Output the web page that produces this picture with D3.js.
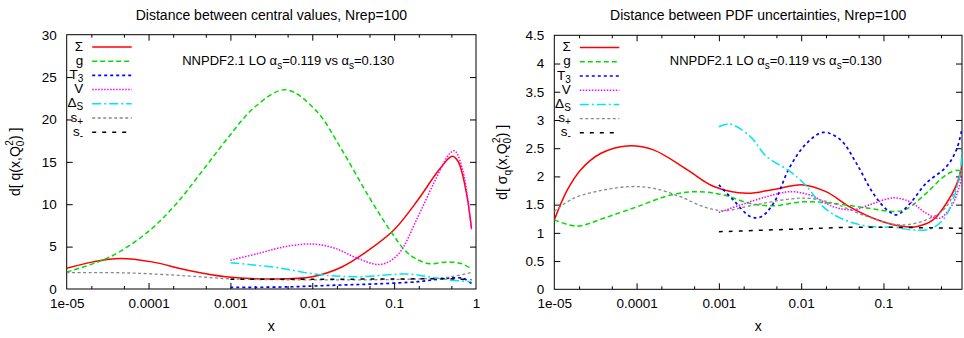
<!DOCTYPE html>
<html>
<head>
<meta charset="utf-8">
<script src="https://cdn.jsdelivr.net/npm/d3@7"></script>
<style>
  html, body { margin: 0; padding: 0; background: #fff; }
  svg { display: block; }
  text { font-family: "Liberation Sans", Arial, Helvetica, sans-serif; fill: #000; }
</style>
</head>
<body>
<svg id="chart" width="964" height="338"></svg>
<script>
// ---- tick values and labels ----
const xMajorTicks = [1e-5, 1e-4, 1e-3, 1e-2, 1e-1, 1];
const xTickLabels = ["1e-05", "0.0001", "0.001", "0.01", "0.1", "1"];
const xMinorTicks = [2e-5, 5e-5, 2e-4, 5e-4, 2e-3, 5e-3, 2e-2, 5e-2, 0.2, 0.5];
const yTicksCentral = [0, 5, 10, 15, 20, 25, 30];
const yTicksSigma = [0, 0.5, 1, 1.5, 2, 2.5, 3, 3.5, 4, 4.5];

// ---- distance between central values: [x, d] ----
const cvSigma = [[1e-5,2.44],[2.1e-5,3.2],[4.5e-5,3.6],[1.1e-4,3.2],[2.9e-4,2.25],[8.8e-4,1.45],[3.5e-3,1.18],[0.01,1.45],[0.023,2.6],[0.049,4.6],[0.1,7.0],[0.195,10.5],[0.35,14.0],[0.51,15.65],[0.6,15.1],[0.68,13.6],[0.79,10.5],[0.88,7.2]];
const cvGluon = [[1e-5,2.0],[3.4e-5,3.8],[1e-4,6.8],[2.2e-4,10.1],[4.6e-4,14.0],[9.6e-4,18.0],[2e-3,21.5],[4.7e-3,23.5],[0.011,21.1],[0.023,16.4],[0.049,10.9],[0.094,6.6],[0.148,4.2],[0.26,3.0],[0.45,3.2],[0.66,3.0],[0.88,2.4]];
const cvT3 = [[1e-3,0.18],[0.005,0.25],[0.019,0.45],[0.06,0.6],[0.195,0.86],[0.29,1.06],[0.5,1.3],[0.7,1.25],[0.88,0.65]];
const cvV = [[1e-3,3.4],[2.2e-3,4.2],[4.7e-3,5.0],[0.01,5.3],[0.019,4.8],[0.036,3.6],[0.068,2.9],[0.11,4.0],[0.195,8.5],[0.32,12.9],[0.48,16.0],[0.55,16.3],[0.69,14.0],[0.88,7.0]];
const cvDeltaS = [[1e-3,3.1],[3.5e-3,2.56],[0.012,1.7],[0.036,1.45],[0.148,1.77],[0.24,1.5],[0.45,1.1],[0.88,0.86]];
const cvSPlus = [[1e-5,1.93],[5.4e-5,1.9],[2.9e-4,1.55],[1e-3,1.2],[0.01,1.08],[0.1,1.12],[0.3,1.25],[0.5,1.45],[0.88,1.95]];
const cvSMinus = [[1e-3,1.15],[0.01,1.15],[0.1,1.18],[0.5,1.2],[0.88,1.1]];

// ---- distance between PDF uncertainties: [x, d] ----
const unSigma = [[1e-5,1.23],[1.44e-5,1.76],[2.1e-5,2.12],[3.7e-5,2.41],[7.7e-5,2.54],[1.6e-4,2.47],[4.1e-4,2.12],[8.7e-4,1.82],[2.2e-3,1.7],[4.6e-3,1.77],[0.0106,1.85],[0.02,1.73],[0.039,1.46],[0.075,1.26],[0.16,1.12],[0.25,1.11],[0.4,1.23],[0.58,1.52],[0.77,1.85],[0.9,2.2]];
const unGluon = [[1e-5,1.23],[1.9e-5,1.12],[4e-5,1.26],[1e-4,1.46],[2.6e-4,1.67],[5.5e-4,1.73],[1.15e-3,1.67],[2.4e-3,1.52],[4.6e-3,1.48],[0.0106,1.55],[0.025,1.52],[0.063,1.44],[0.132,1.38],[0.19,1.42],[0.33,1.7],[0.58,2.03],[0.8,2.11],[0.9,2.08]];
const unT3 = [[1e-3,1.85],[1.5e-3,1.58],[2.4e-3,1.29],[3.2e-3,1.28],[4.6e-3,1.52],[7.3e-3,2.17],[0.0117,2.59],[0.0186,2.78],[0.03,2.65],[0.047,2.23],[0.075,1.7],[0.11,1.41],[0.145,1.32],[0.21,1.52],[0.33,1.88],[0.58,2.17],[0.77,2.47],[0.9,2.85]];
const unV = [[1e-3,1.36],[1.8e-3,1.49],[3.8e-3,1.64],[7.3e-3,1.73],[0.0128,1.67],[0.025,1.46],[0.043,1.41],[0.075,1.52],[0.132,1.62],[0.21,1.55],[0.33,1.35],[0.48,1.26],[0.7,1.52],[0.9,2.0]];
const unDeltaS = [[1e-3,2.88],[1.35e-3,2.93],[2.4e-3,2.71],[3.8e-3,2.35],[7.3e-3,2.09],[0.0117,1.82],[0.0186,1.46],[0.03,1.26],[0.063,1.12],[0.132,1.1],[0.23,1.05],[0.37,1.07],[0.53,1.23],[0.7,1.58],[0.85,2.06],[0.9,2.5]];
const unSPlus = [[1e-5,1.38],[1.7e-5,1.61],[4e-5,1.76],[8.5e-5,1.82],[1.6e-4,1.79],[3.4e-4,1.64],[6.6e-4,1.46],[1.15e-3,1.39],[2.4e-3,1.48],[7.3e-3,1.6],[0.0128,1.61],[0.025,1.52],[0.063,1.29],[0.16,1.14],[0.33,1.23],[0.58,1.46],[0.9,2.1]];
const unSMinus = [[1e-3,1.02],[0.01,1.07],[0.05,1.1],[0.9,1.08]];

// ---- series styling (gnuplot-like line types) ----
const seriesStyles = [
  { key: "Sigma",  color: "#ff0000", dash: null,          width: 1.5 },
  { key: "Gluon",  color: "#00dd00", dash: "5,3",         width: 1.5 },
  { key: "T3",     color: "#0000ff", dash: "3,3",         width: 1.7 },
  { key: "V",      color: "#ff00ff", dash: "1.5,1.5",     width: 1.5 },
  { key: "DeltaS", color: "#00e5ee", dash: "9,3,2,3",     width: 1.5 },
  { key: "SPlus",  color: "#888888", dash: "3,2.5",       width: 1.3 },
  { key: "SMinus", color: "#000000", dash: "4,6",         width: 1.5 }
];

const svg = d3.select("#chart");

function legendLabel(t, key) {
  const subDy = 3, subSize = 10;
  const withSub = (main, sub) => {
    t.append("tspan").text(main);
    t.append("tspan").attr("dy", subDy).attr("font-size", subSize).text(sub);
  };
  if (key === "Sigma") t.text("Σ");
  else if (key === "Gluon") t.text("g");
  else if (key === "V") t.text("V");
  else if (key === "T3") withSub("T", "3");
  else if (key === "DeltaS") withSub("Δ", "S");
  else if (key === "SPlus") withSub("s", "+");
  else if (key === "SMinus") withSub("s", "-");
}

function drawPanel(cfg) {
  const { left, right, top, bottom, xMax, yMax, yTicks, yFormat, series, title, ylabelSym } = cfg;
  const x = d3.scaleLog().domain([1e-5, xMax]).range([left, right]);
  const y = d3.scaleLinear().domain([0, yMax]).range([bottom, top]);
  const g = svg.append("g");

  const clipId = "clip" + Math.round(left);
  g.append("clipPath").attr("id", clipId)
    .append("rect").attr("x", left).attr("y", top).attr("width", right - left).attr("height", bottom - top);

  // title
  g.append("text").attr("x", (left + right) / 2).attr("y", 20)
    .attr("text-anchor", "middle").attr("font-size", 14).text(title);

  // axes: inward major/minor ticks on all four sides
  const majors = xMajorTicks.filter(v => v <= xMax * 1.0001);
  const labelMap = new Map(xMajorTicks.map((v, i) => [v, xTickLabels[i]]));
  const fmtX = v => labelMap.get(v);
  const minors = xMinorTicks.filter(v => v < xMax);

  const ba = g.append("g").attr("transform", `translate(0,${bottom})`)
    .call(d3.axisBottom(x).tickValues(majors).tickFormat(fmtX).tickSizeInner(-6).tickSizeOuter(0).tickPadding(9));
  const bminor = g.append("g").attr("transform", `translate(0,${bottom})`)
    .call(d3.axisBottom(x).tickValues(minors).tickFormat("").tickSizeInner(-3).tickSizeOuter(0));
  const ta = g.append("g").attr("transform", `translate(0,${top})`)
    .call(d3.axisTop(x).tickValues(majors).tickFormat("").tickSizeInner(-6).tickSizeOuter(0));
  const tminor = g.append("g").attr("transform", `translate(0,${top})`)
    .call(d3.axisTop(x).tickValues(minors).tickFormat("").tickSizeInner(-3).tickSizeOuter(0));
  const la = g.append("g").attr("transform", `translate(${left},0)`)
    .call(d3.axisLeft(y).tickValues(yTicks).tickFormat(yFormat).tickSizeInner(-6).tickSizeOuter(0).tickPadding(10));
  const ra = g.append("g").attr("transform", `translate(${right},0)`)
    .call(d3.axisRight(y).tickValues(yTicks).tickFormat("").tickSizeInner(-6).tickSizeOuter(0));
  [ba, bminor, ta, tminor, la, ra].forEach(a => {
    a.select(".domain").remove();
    a.selectAll("line").attr("stroke", "#000").attr("stroke-width", 1);
    a.selectAll("text").attr("font-size", 13.5).attr("font-family", '"Liberation Sans", Arial, sans-serif').attr("fill", "#000");
  });
  // drop tick marks that sit on the frame corners
  [ba, ta].forEach(a => a.selectAll(".tick").filter(d => Math.abs(x(d) - left) < 1 || Math.abs(x(d) - right) < 1).select("line").remove());
  [la, ra].forEach(a => a.selectAll(".tick").filter(d => Math.abs(y(d) - top) < 1 || Math.abs(y(d) - bottom) < 1).select("line").remove());

  // frame
  g.append("rect").attr("x", left).attr("y", top).attr("width", right - left).attr("height", bottom - top)
    .attr("fill", "none").attr("stroke", "#000").attr("stroke-width", 1);

  // axis labels
  g.append("text").attr("x", (left + right) / 2).attr("y", 331).attr("text-anchor", "middle")
    .attr("font-size", 14).text("x");
  const yl = g.append("text")
    .attr("transform", `translate(${left - 47},${(top + bottom) / 2}) rotate(-90)`)
    .attr("text-anchor", "middle").attr("font-size", 14);
  yl.append("tspan").text("d[ ");
  if (ylabelSym) {
    yl.append("tspan").text("σ");
    yl.append("tspan").attr("dy", 4).attr("font-size", 10).text("q");
    yl.append("tspan").attr("dy", -4).text("(x,Q");
  } else {
    yl.append("tspan").text("q(x,Q");
  }
  yl.append("tspan").attr("dy", 4).attr("font-size", 10).text("0");
  yl.append("tspan").attr("dy", -11).attr("dx", -5).attr("font-size", 10).text("2");
  yl.append("tspan").attr("dy", 7).text(") ]");

  // curves
  const line = d3.line().x(d => x(d[0])).y(d => y(d[1])).curve(d3.curveCatmullRom.alpha(0.5));
  const plot = g.append("g").attr("clip-path", `url(#${clipId})`);
  seriesStyles.forEach(s => {
    plot.append("path").datum(series[s.key]).attr("d", line)
      .attr("fill", "none").attr("stroke", s.color).attr("stroke-width", s.width)
      .attr("stroke-dasharray", s.dash);
  });

  // key
  const keyRight = left + 16.5, keyLine0 = left + 25.5, keyLine1 = left + 65;
  seriesStyles.forEach((s, i) => {
    const cy = top + 12.3 + i * 14.2;
    const t = g.append("text").attr("x", keyRight).attr("y", cy + 3.5).attr("text-anchor", "end").attr("font-size", 13.5);
    legendLabel(t, s.key);
    g.append("line").attr("x1", keyLine0).attr("x2", keyLine1).attr("y1", cy).attr("y2", cy)
      .attr("stroke", s.color).attr("stroke-width", s.width).attr("stroke-dasharray", s.dash);
  });

  // annotation
  const ann = g.append("text").attr("x", left + 115.5).attr("y", top + 30).attr("font-size", 13);
  ann.append("tspan").text("NNPDF2.1 LO α");
  ann.append("tspan").attr("dy", 4).attr("font-size", 10).text("s");
  ann.append("tspan").attr("dy", -4).text("=0.119 vs α");
  ann.append("tspan").attr("dy", 4).attr("font-size", 10).text("s");
  ann.append("tspan").attr("dy", -4).text("=0.130");
}

drawPanel({
  left: 66.7, right: 476, top: 34.7, bottom: 289, xMax: 1, yMax: 30,
  yTicks: yTicksCentral, yFormat: d3.format("d"),
  title: "Distance between central values, Nrep=100", ylabelSym: false,
  series: { Sigma: cvSigma, Gluon: cvGluon, T3: cvT3, V: cvV, DeltaS: cvDeltaS, SPlus: cvSPlus, SMinus: cvSMinus }
});

drawPanel({
  left: 554.3, right: 962, top: 35.3, bottom: 289.3, xMax: 0.9, yMax: 4.5,
  yTicks: yTicksSigma, yFormat: d => (d === Math.round(d) ? d3.format("d")(d) : d3.format(".1f")(d)),
  title: "Distance between PDF uncertainties, Nrep=100", ylabelSym: true,
  series: { Sigma: unSigma, Gluon: unGluon, T3: unT3, V: unV, DeltaS: unDeltaS, SPlus: unSPlus, SMinus: unSMinus }
});
</script>
</body>
</html>
